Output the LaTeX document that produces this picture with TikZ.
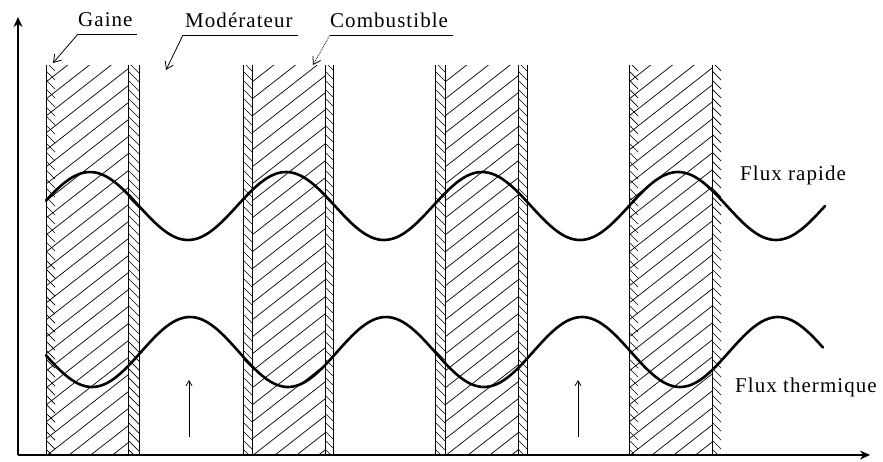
\documentclass[tikz,border=0pt]{standalone}
\usepackage{fontspec}
\setmainfont{Liberation Serif}[LetterSpace=5]
\usetikzlibrary{arrows.meta}
\newcommand\fuelhatch[2]{%
  \begin{scope}
    \clip (#1,65) rectangle (#2,455);
    \foreach \t in {0,17,...,560} \draw[hatch] (#1,65+\t) -- ++(110,-86);
  \end{scope}}
\newcommand\cladhatch[2]{%
  \begin{scope}
    \clip (#1,65) rectangle (#2,455);
    \foreach \t in {-10,-1,...,460} \draw[hatch] (#1,\t) -- ++(12,12);
  \end{scope}}
\begin{document}
\begin{tikzpicture}[x=1pt,y=-1pt,
  hatch/.style={line width=0.7pt},
  edge/.style={line width=1pt},
  wave/.style={line width=2.6pt, line cap=round, line join=round},
  axis/.style={line width=1.3pt},
  lbl/.style={font=\fontsize{21}{24}\selectfont, inner sep=0pt, text depth=7pt, anchor=south west},
  flbl/.style={font=\fontsize{21}{24}\selectfont, inner sep=0pt, anchor=base west},
  leader/.style={line width=0.8pt, -{Straight Barb[length=7pt,width=9pt]}},
  small/.style={line width=0.8pt, -{Straight Barb[length=5pt,width=6pt]}},
]
\useasboundingbox (0,0) rectangle (883,461);
% ---- hatching of fuel and cladding
\fuelhatch{46}{128}  \cladhatch{46}{55}  \cladhatch{128}{139}
\fuelhatch{252}{325} \cladhatch{243}{252} \cladhatch{325}{333}
\fuelhatch{445}{518} \cladhatch{435}{445} \cladhatch{518}{527}
\fuelhatch{629}{712} \cladhatch{629}{638} \cladhatch{712}{721}
% ---- vertical edges
\foreach \x in {46,128,139,243,252,325,333,435,445,518,527,629,712}
  \draw[edge] (\x,65) -- (\x,455);
% ---- axes
\coordinate (O) at (18,455);
\coordinate (ytip) at (18,17);
\coordinate (xtip) at (870,455);
\draw[axis,-{Stealth[length=10pt,width=9pt]}] (O) -- (ytip);
\draw[axis,-{Stealth[length=10pt,width=9pt]}] (O) -- (xtip);
% ---- flux curves
\draw[wave] plot[domain=46:825, samples=240, smooth] (\x, {206-34*cos(1.836735*(\x-90))});
\draw[wave] plot[domain=46:823, samples=240, smooth] (\x, {352+35*cos(1.836735*(\x-92))});
% ---- small arrows in moderator
\coordinate (m1a) at (189,437); \coordinate (m1b) at (189,380);
\coordinate (m2a) at (578,437); \coordinate (m2b) at (578,380);
\draw[small] (m1a) -- (m1b);
\draw[small] (m2a) -- (m2b);
% ---- labels
\node[lbl] (gaine) at (78,34) {Gaine};
\node[lbl] (moder) at (185,35) {Modérateur};
\node[lbl] (comb) at (330,35) {Combustible};
\draw[line width=0.8pt] (gaine.south west) -- ++(59,0);
\draw[line width=0.8pt] ([xshift=-2pt]moder.south west) -- ++(115,0);
\draw[line width=0.8pt] (comb.south west) -- ++(123,0);
\coordinate (gtip) at (53,63);
\coordinate (mtip) at (166,70);
\coordinate (ctip) at (313,65);
\draw[leader] (gaine.south west) -- (gtip);
\draw[leader] ([xshift=-2pt]moder.south west) -- (mtip);
\draw[leader, densely dotted] (comb.south west) -- (ctip);
\node[flbl] (frap) at (740,180) {Flux rapide};
\node[flbl] (fth) at (735,392) {Flux thermique};
\end{tikzpicture}
\end{document}
